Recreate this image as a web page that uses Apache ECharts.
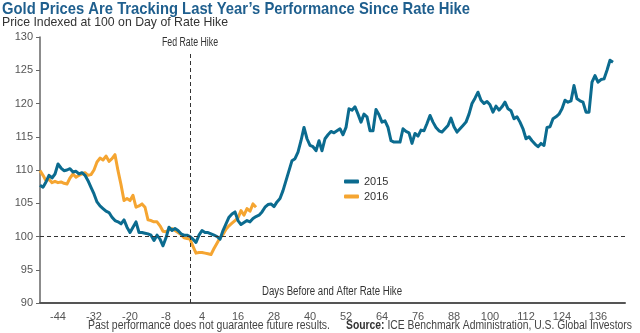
<!DOCTYPE html>
<html>
<head>
<meta charset="utf-8">
<script src="https://cdn.jsdelivr.net/npm/echarts@6/dist/echarts.min.js"></script>
<style>
html,body{margin:0;padding:0;background:#fff;}
#c{width:640px;height:333px;}
</style>
</head>
<body>
<div id="c"></div>
<script>
// ---- data ----
const startDay = -50;
const xTicks = [-44, -32, -20, -8, 4, 16, 28, 40, 52, 64, 76, 88, 100, 112, 124, 136];
const values2015 = [
  107.7,107.4,108.2,109.2,108.8,109.4,110.9,110.3,109.9,110.0,
  110.2,109.7,109.8,109.4,109.6,109.2,108.4,107.4,106.4,105.2,
  104.6,104.2,103.8,103.6,102.9,102.4,102.2,101.9,102.5,101.4,
  100.6,101.4,102.2,100.6,100.6,100.5,100.4,100.2,99.4,100.2,
  99.6,98.6,99.8,101.4,100.9,101.2,100.9,100.4,100.2,100.2,
  100.0,99.6,99.1,100.2,100.9,100.6,100.6,100.4,100.2,100.0,
  99.6,100.9,101.9,102.9,103.4,103.7,102.4,101.8,102.1,102.4,
  102.2,102.7,103.0,103.2,103.7,104.4,104.8,104.9,104.5,105.2,
  105.7,106.9,108.4,109.9,111.4,111.7,112.7,114.4,116.4,114.7,
  113.7,113.5,112.9,114.4,112.9,114.7,115.3,115.8,115.6,115.9,
  116.2,115.3,116.4,119.2,119.0,119.5,118.4,117.2,118.4,118.0,
  115.9,115.9,119.1,118.3,117.2,117.4,116.4,114.4,114.2,114.2,
  114.2,116.2,115.8,115.6,114.0,115.5,115.1,116.0,115.9,117.0,
  118.2,117.2,116.4,115.9,115.7,116.2,116.7,117.8,116.5,115.7,
  116.2,116.7,117.2,118.4,120.0,120.8,121.7,120.5,120.0,120.3,
  119.8,118.7,119.6,119.0,119.5,120.2,119.2,118.9,117.7,118.0,
  117.2,116.2,114.7,115.0,114.4,113.9,113.5,114.0,113.7,116.4,
  116.5,117.7,118.0,118.4,119.2,120.5,120.2,120.4,122.7,120.7,
  120.4,120.2,118.7,118.7,123.2,124.2,123.2,123.6,123.7,125.0,
  126.5,126.2
];
const values2016 = [
  109.9,109.2,108.4,108.6,108.1,108.3,108.1,108.2,108.0,107.9,
  108.8,109.4,108.9,109.2,109.4,109.6,109.2,109.3,110.0,111.2,
  111.8,111.5,112.1,111.3,111.7,112.3,109.9,107.8,105.4,105.7,
  105.4,106.2,104.4,104.6,104.9,104.4,102.5,102.4,102.2,102.2,
  101.6,100.8,100.7,101.0,101.2,100.9,100.6,100.3,99.8,99.7,
  99.6,98.5,97.5,97.6,97.6,97.5,97.4,97.3,98.2,99.0,
  99.8,100.3,101.1,101.6,102.0,102.4,102.8,103.9,103.2,104.2,
  103.8,104.9,104.4
];
const seriesNames = ['2015', '2016'];
const colors = ['#0b6b8f', '#f5a531'];
const hikeDay = 0;
const baseLevel = 100;

const toPairs = vals => vals.map((v, i) => [startDay + i, v]);
const FAM = '"Liberation Sans", Arial, sans-serif';

// condensed-look text helper: scale horizontally to a target width
const mctx = document.createElement('canvas').getContext('2d');
function textW(txt, font) { mctx.font = font; return mctx.measureText(txt).width; }
function ctext(txt, x, y, size, weight, color, target, align) {
  const font = weight + ' ' + size + 'px ' + FAM;
  const s = target / textW(txt, font);
  return {type: 'text', x: x, y: y, scaleX: s, silent: true, z: 10,
    style: {text: txt, font: font, fill: color, align: align || 'left', verticalAlign: 'middle'}};
}

const chart = echarts.init(document.getElementById('c'), null, {renderer: 'canvas'});
chart.setOption({
  animation: false,
  backgroundColor: '#fff',
  legend: {
    orient: 'vertical', left: 339, top: 171, itemGap: 4,
    itemWidth: 15, itemHeight: 4, icon: 'roundRect',
    textStyle: {fontFamily: FAM, fontSize: 11, color: '#333'},
    data: seriesNames
  },
  grid: {left: 40, right: 15, top: 37, bottom: 30, containLabel: false},
  xAxis: {
    type: 'value', min: -50, max: 145,
    axisLine: {show: true, onZero: false, lineStyle: {color: '#555', width: 2}},
    axisTick: {show: false},
    splitLine: {show: false},
    axisLabel: {customValues: xTicks, fontFamily: FAM, fontSize: 11, color: '#555', margin: 8}
  },
  yAxis: {
    type: 'value', min: 90, max: 130, interval: 5,
    axisLine: {show: true, onZero: false, lineStyle: {color: '#666', width: 1.5}},
    axisTick: {show: true, length: 4, lineStyle: {color: '#666', width: 1}},
    splitLine: {show: false},
    axisLabel: {fontFamily: FAM, fontSize: 11, color: '#555', margin: 7}
  },
  series: [
    {
      name: seriesNames[0], type: 'line', data: toPairs(values2015),
      showSymbol: false, lineStyle: {color: colors[0], width: 3, join: 'round'},
      itemStyle: {color: colors[0]}, z: 3,
      markLine: {
        silent: true, symbol: 'none', animation: false,
        lineStyle: {color: '#333', type: [4, 3], width: 1},
        label: {show: false},
        data: [
          {yAxis: baseLevel},
          [{coord: [hikeDay, 90]}, {coord: [hikeDay, 127.7]}]
        ]
      }
    },
    {
      name: seriesNames[1], type: 'line', data: toPairs(values2016),
      showSymbol: false, lineStyle: {color: colors[1], width: 3, join: 'round'},
      itemStyle: {color: colors[1]}, z: 2
    }
  ]
});

const hikeX = chart.convertToPixel({xAxisIndex: 0}, hikeDay);
const boldW = textW('Source:', 'bold 12px ' + FAM);
const srcRest = ' ICE Benchmark Administration, U.S. Global Investors';
const restW = textW(srcRest, 'normal 12px ' + FAM);
const srcScale = 286 / (boldW + restW);
chart.setOption({
  graphic: [
    ctext('Gold Prices Are Tracking Last Year\u2019s Performance Since Rate Hike', 2, 9, 17, 'bold', '#1f5f8e', 468),
    ctext('Price Indexed at 100 on Day of Rate Hike', 2, 22, 13, 'normal', '#333', 226),
    ctext('Fed Rate Hike', hikeX, 43, 12, 'normal', '#333', 56, 'center'),
    ctext('Days Before and After Rate Hike', 332, 292, 12, 'normal', '#333', 140, 'center'),
    ctext('Past performance does not guarantee future results.', 88, 326, 12, 'normal', '#444', 242),
    {type: 'text', x: 346, y: 326, scaleX: srcScale, silent: true, z: 10,
     style: {text: '{b|Source:}' + srcRest, font: 'normal 12px ' + FAM, fill: '#444', verticalAlign: 'middle',
       rich: {b: {font: 'bold 12px ' + FAM, fill: '#333'}}}}
  ]
});
</script>
</body>
</html>
